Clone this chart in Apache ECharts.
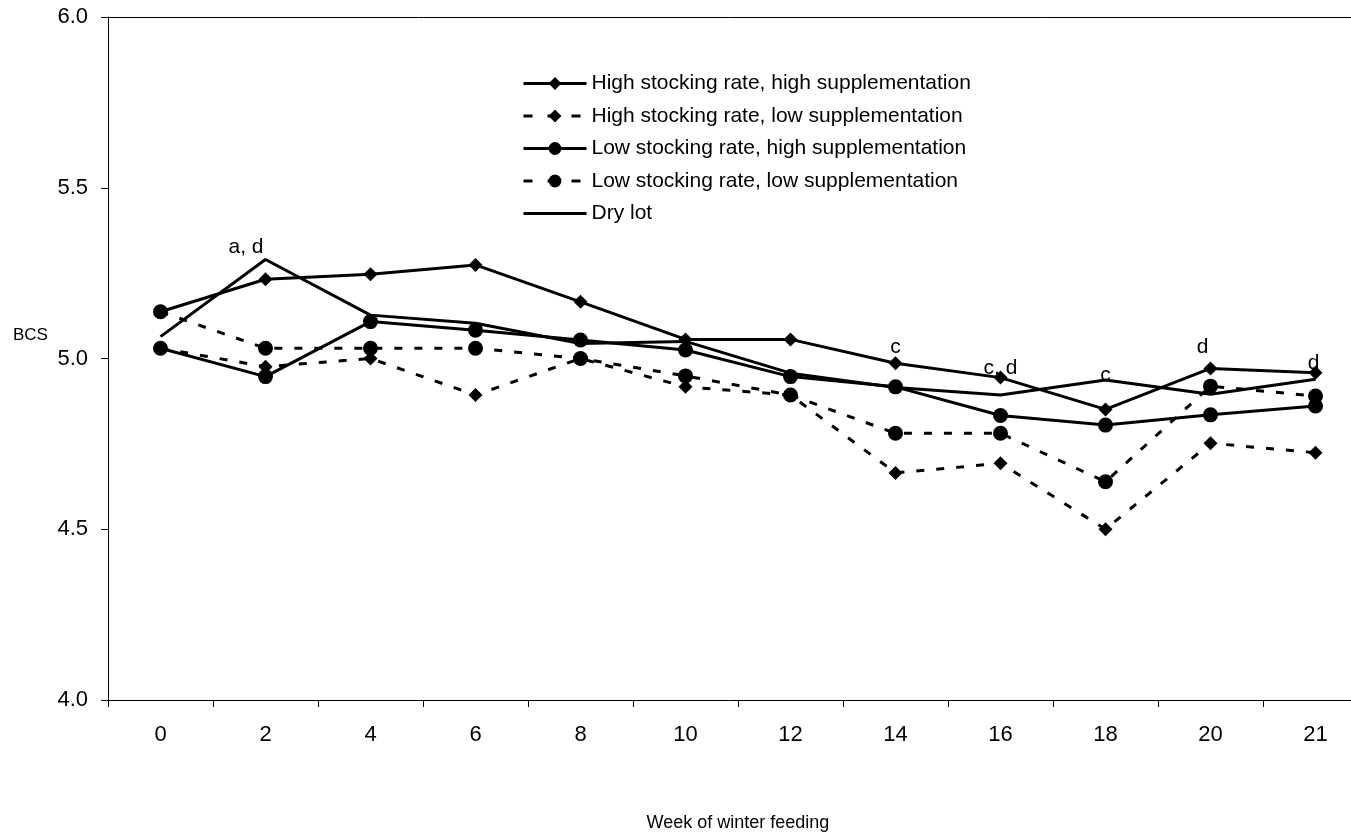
<!DOCTYPE html>
<html style="height: 100%; width: 100%">
  <head>
    <meta charset="utf-8" />
  </head>
  <body style="height: 100%; width: 100%; margin: 0">
    <div id="chart-panel" style="height: 836px; width: 1351px"></div>
    <script
      type="text/javascript"
      src="https://cdn.jsdelivr.net/npm/echarts@6/dist/echarts.min.js"
    ></script>
    <script type="text/javascript">
      var weeks = ["0", "2", "4", "6", "8", "10", "12", "14", "16", "18", "20", "21"];

      // BCS values
      var hsHigh = [5.137, 5.232, 5.247, 5.274, 5.166, 5.056, 5.056, 4.986, 4.944, 4.851, 4.971, 4.958];
      var hsLow = [5.03, 4.976, 5.0, 4.893, 5.0, 4.917, 4.893, 4.665, 4.693, 4.5, 4.752, 4.724];
      var lsHigh = [5.03, 4.947, 5.108, 5.083, 5.054, 5.025, 4.947, 4.917, 4.833, 4.805, 4.835, 4.861];
      var lsLow = [5.137, 5.03, 5.03, 5.03, 5.0, 4.949, 4.893, 4.781, 4.781, 4.639, 4.919, 4.89];
      var dryLot = [5.064, 5.29, 5.127, 5.103, 5.044, 5.05, 4.957, 4.915, 4.893, 4.937, 4.895, 4.939];

      // significance letters: week index, level where the letter sits, text
      var noteIdx = [1, 7, 8, 9, 10, 11];
      var noteVal = [5.327, 5.034, 4.972, 4.952, 5.034, 4.986];
      var noteText = ["a, d", "c", "c, d", "c", "d", "d"];

      var font = "Liberation Sans";
      var dash = [8, 12];
      var legendDash = [9, 15];

      function lineSeries(name, data, symbol, size, dashed) {
        return {
          name: name,
          type: "line",
          data: data,
          symbol: symbol,
          symbolSize: size,
          itemStyle: { color: "#000" },
          lineStyle: { color: "#000", width: 3, type: dashed ? dash : "solid" },
          animation: false,
          z: 3,
        };
      }

      var notes = noteIdx.map(function (i, k) {
        return { value: [weeks[i], noteVal[k]], text: noteText[k] };
      });
      // "a, d" sits left of the peak, its last letter over the point
      notes[0].label = { align: "right", offset: [-2, 0] };
      notes[4].label = { offset: [-8, 0] };
      notes[5].label = { offset: [-2, 0] };

      var myChart = echarts.init(document.getElementById("chart-panel"));
      var option = {
        backgroundColor: "#fff",
        animation: false,
        textStyle: { fontFamily: font },
        title: {
          text: "BCS",
          left: 13,
          top: 327,
          textStyle: { fontFamily: font, fontSize: 17, fontWeight: "normal", color: "#000" },
          padding: 0,
        },
        grid: { left: 108, width: 1260, top: 17, bottom: 136, outerBoundsMode: "none" },
        legend: {
          orient: "vertical",
          left: 522,
          top: 73,
          padding: 0,
          itemWidth: 63,
          itemHeight: 16,
          itemGap: 11.5,
          lineStyle: { width: 3 },
          textStyle: { fontFamily: font, fontSize: 21, color: "#000" },
          data: [
            "High stocking rate, high supplementation",
            { name: "High stocking rate, low supplementation", lineStyle: { type: legendDash } },
            "Low stocking rate, high supplementation",
            { name: "Low stocking rate, low supplementation", lineStyle: { type: legendDash } },
            { name: "Dry lot", itemStyle: { opacity: 0 } },
          ],
        },
        xAxis: [
          {
            type: "category",
            data: weeks,
            boundaryGap: true,
            name: "Week of winter feeding",
            nameLocation: "middle",
            nameGap: 114,
            nameTextStyle: { fontFamily: font, fontSize: 18, color: "#000" },
            axisLine: { lineStyle: { color: "#000", width: 1 } },
            axisTick: { show: true, length: 7, lineStyle: { color: "#000" } },
            axisLabel: { fontFamily: font, fontSize: 22, color: "#000", margin: 24 },
            splitLine: { show: false },
          },
          {
            type: "category",
            data: weeks,
            position: "top",
            axisLine: { lineStyle: { color: "#000", width: 1 } },
            axisTick: { show: false },
            axisLabel: { show: false },
          },
        ],
        yAxis: {
          type: "value",
          min: 4,
          max: 6,
          interval: 0.5,
          axisLine: { show: true, lineStyle: { color: "#000", width: 1 } },
          axisTick: { show: true, length: 7, lineStyle: { color: "#000" } },
          axisLabel: {
            fontFamily: font,
            fontSize: 22,
            color: "#000",
            margin: 20,
            formatter: function (v) {
              return v.toFixed(1);
            },
          },
          splitLine: { show: false },
        },
        series: [
          lineSeries("High stocking rate, high supplementation", hsHigh, "diamond", 14, false),
          lineSeries("High stocking rate, low supplementation", hsLow, "diamond", 14, true),
          lineSeries("Low stocking rate, high supplementation", lsHigh, "circle", 15, false),
          lineSeries("Low stocking rate, low supplementation", lsLow, "circle", 15, true),
          lineSeries("Dry lot", dryLot, "none", 0, false),
          {
            name: "notes",
            type: "scatter",
            data: notes,
            symbolSize: 0.01,
            itemStyle: { color: "#000", opacity: 1 },
            label: {
              show: true,
              position: "inside",
              fontFamily: font,
              fontSize: 21,
              color: "#000",
              opacity: 1,
              textBorderWidth: 0,
              formatter: function (p) {
                return p.data.text;
              },
            },
            z: 5,
          },
        ],
      };
      myChart.setOption(option);
    </script>
  </body>
</html>
